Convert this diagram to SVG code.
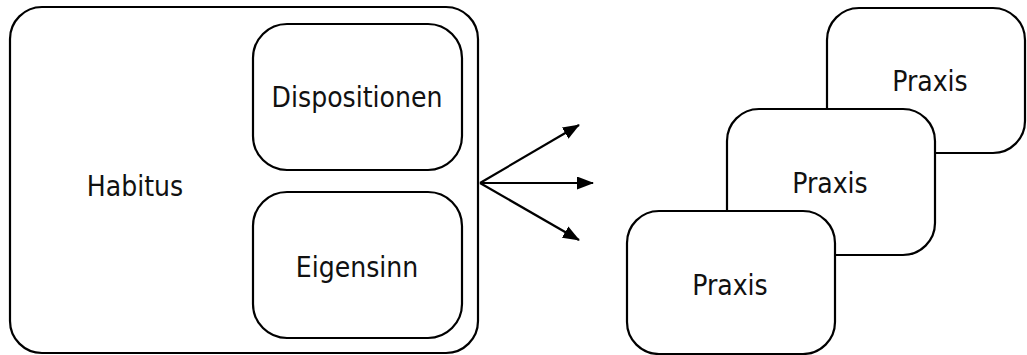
<svg xmlns="http://www.w3.org/2000/svg" width="1027" height="355" viewBox="0 0 1027 355">
<style>
.box{fill:#fff;stroke:#000;stroke-width:2.2}
.lbl{font-family:"DejaVu Sans Condensed","DejaVu Sans",sans-serif;font-size:28px;fill:#111;text-anchor:middle}
.con{stroke:#000;stroke-width:2.2;fill:none}
</style>
<defs>
<marker id="ah" markerWidth="17" markerHeight="13" refX="16" refY="6.5" orient="auto" markerUnits="userSpaceOnUse">
<path d="M0,0 L17,6.5 L0,13 Z" fill="#000"/>
</marker>
</defs>
<g id="habitus">
<rect class="box" x="10" y="7" width="468" height="346" rx="32"/>
<text class="lbl" x="135" y="196">Habitus</text>
</g>
<g id="dispositionen">
<rect class="box" x="253" y="24" width="209" height="146" rx="34"/>
<text class="lbl" x="357" y="107">Dispositionen</text>
</g>
<g id="eigensinn">
<rect class="box" x="253" y="192" width="209" height="146" rx="34"/>
<text class="lbl" x="357" y="277">Eigensinn</text>
</g>
<g id="connectors">
<line class="con" x1="480" y1="183" x2="579" y2="125" marker-end="url(#ah)"/>
<line class="con" x1="480" y1="183" x2="593" y2="183" marker-end="url(#ah)"/>
<line class="con" x1="480" y1="183" x2="579" y2="240" marker-end="url(#ah)"/>
</g>
<g id="praxis3">
<rect class="box" x="827" y="8" width="198" height="145" rx="32"/>
<text class="lbl" x="930" y="91">Praxis</text>
</g>
<g id="praxis2">
<rect class="box" x="727" y="109" width="208" height="146" rx="32"/>
<text class="lbl" x="830" y="193">Praxis</text>
</g>
<g id="praxis1">
<rect class="box" x="627" y="211" width="208" height="143" rx="32"/>
<text class="lbl" x="730" y="295">Praxis</text>
</g>
</svg>
